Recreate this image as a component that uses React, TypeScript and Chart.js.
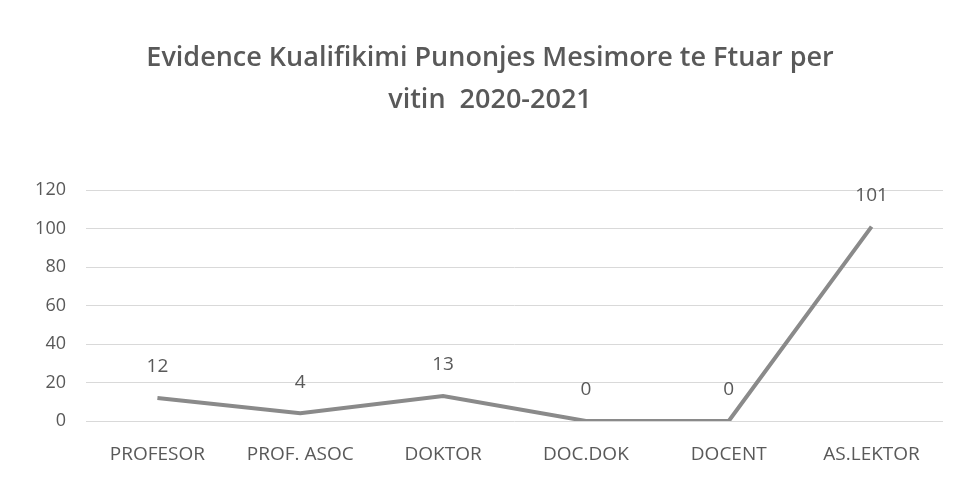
import React, { useEffect, useRef } from "react";
import { Chart, registerables } from "chart.js";

Chart.register(...registerables);

const categories = ["PROFESOR", "PROF. ASOC", "DOKTOR", "DOC.DOK", "DOCENT", "AS.LEKTOR"];
const values = [12, 4, 13, 0, 0, 101];
const titleLines = ["Evidence Kualifikimi Punonjes Mesimore te Ftuar per", "vitin  2020-2021"];

const FONT = "'Open Sans', sans-serif";

const labelPlugin = {
  id: "pointLabels",
  afterDatasetsDraw(chart: any) {
    const ctx = chart.ctx;
    const meta = chart.getDatasetMeta(0);
    ctx.save();
    ctx.font = `19px ${FONT}`;
    ctx.fillStyle = "#595959";
    ctx.textAlign = "center";
    ctx.textBaseline = "middle";
    meta.data.forEach((pt: any, i: number) => {
      ctx.fillText(String(values[i]), pt.x, pt.y - 31);
    });
    ctx.restore();
  },
};

const titlePlugin = {
  id: "customTitle",
  afterDraw(chart: any) {
    const ctx = chart.ctx;
    ctx.save();
    ctx.font = `600 27px ${FONT}`;
    ctx.fillStyle = "#595959";
    ctx.textAlign = "center";
    ctx.textBaseline = "middle";
    ctx.fillText(titleLines[0], 490, 58);
    ctx.fillText(titleLines[1], 490, 100);
    ctx.restore();
  },
};

export default function App() {
  const ref = useRef<HTMLCanvasElement>(null);
  useEffect(() => {
    if (!ref.current) return;
    const chart = new Chart(ref.current, {
      type: "line",
      data: {
        labels: categories,
        datasets: [
          {
            data: values,
            borderColor: "#8a8a8a",
            borderWidth: 4,
            pointRadius: 0,
            tension: 0,
            fill: false,
          },
        ],
      },
      options: {
        animation: false,
        responsive: false,
        maintainAspectRatio: false,
        layout: { padding: { left: 20, right: 17, top: 190, bottom: 0 } },
        plugins: {
          legend: { display: false },
          tooltip: { enabled: false },
          title: { display: false },
        },
        scales: {
          x: {
            offset: true,
            afterFit(scale: any) {
              scale.height = 56;
            },
            grid: { display: false, drawTicks: false },
            border: { display: false },
            ticks: {
              color: "#595959",
              font: { family: FONT, size: 19 },
              padding: 22,
              maxRotation: 0,
              autoSkip: false,
            },
          },
          y: {
            min: 0,
            max: 120,
            afterFit(scale: any) {
              scale.width = 66;
            },
            ticks: {
              stepSize: 20,
              color: "#595959",
              font: { family: FONT, size: 18 },
              padding: 20,
            },
            grid: { color: "#d9d9d9", drawTicks: false },
            border: { display: false },
          },
        },
      },
      plugins: [labelPlugin, titlePlugin],
    });
    return () => chart.destroy();
  }, []);
  return (
    <div style={{ position: "fixed", left: 0, top: 0, width: 960, height: 477, background: "#fff" }}>
      <canvas ref={ref} width={960} height={477} style={{ width: 960, height: 477 }} />
    </div>
  );
}
